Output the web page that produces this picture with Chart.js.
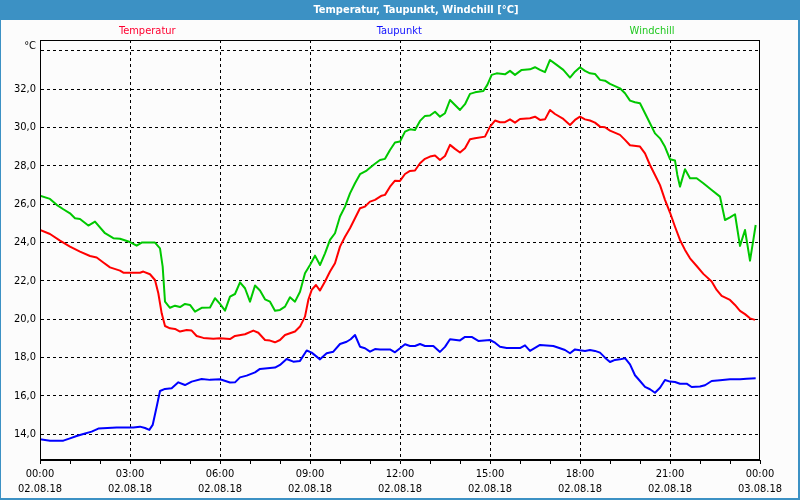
<!DOCTYPE html>
<html>
<head>
<meta charset="utf-8">
<script src="https://cdn.jsdelivr.net/npm/chart.js@4/dist/chart.umd.min.js"></script>
<style>
html,body{margin:0;padding:0;background:#fff;}
canvas{display:block;}
</style>
</head>
<body>
<canvas id="c" width="800" height="500"></canvas>
<script>
const chartTitle = 'Temperatur, Taupunkt, Windchill [°C]';
const seriesNames = ['Temperatur', 'Taupunkt', 'Windchill'];
const xTickLabels = [
  ['00:00','02.08.18'],['03:00','02.08.18'],['06:00','02.08.18'],['09:00','02.08.18'],
  ['12:00','02.08.18'],['15:00','02.08.18'],['18:00','02.08.18'],['21:00','02.08.18'],
  ['00:00','03.08.18']
];
const yTickValues = [14,16,18,20,22,24,26,28,30,32,34];

const tempHours = [0,0.333,0.667,1.0,1.333,1.667,1.889,2.111,2.333,2.667,2.778,3.333,3.444,3.667,3.833,3.944,4.056,4.167,4.333,4.5,4.667,4.889,5.056,5.222,5.444,5.778,
6.0,6.333,6.5,6.833,7.111,7.278,7.5,7.667,7.833,8.0,8.167,8.333,8.5,8.667,8.833,8.944,9.056,9.2,9.333,9.5,9.667,9.833,10.0,10.167,10.333,10.5,10.667,10.833,11.0,11.167,11.389,11.5,11.667,11.833,
12.0,12.167,12.333,12.5,12.667,12.833,13.0,13.167,13.333,13.5,13.667,13.833,14.0,14.167,14.333,14.5,14.833,15.0,15.167,15.333,15.5,15.667,15.833,16.0,16.333,16.5,16.667,16.833,17.0,17.167,17.444,17.667,17.833,
18.0,18.167,18.333,18.5,18.667,18.833,19.0,19.333,19.5,19.667,20.0,20.167,20.333,20.5,20.667,20.833,21.0,21.167,21.333,21.5,21.667,21.889,22.111,22.389,22.556,22.722,23.0,23.167,23.333,23.5,23.667,23.833];
const tempValues = [24.66,24.45,24.10,23.79,23.53,23.30,23.22,22.96,22.71,22.54,22.43,22.43,22.49,22.35,22.05,21.36,20.31,19.65,19.53,19.50,19.36,19.44,19.41,19.13,19.03,18.99,
19.01,18.97,19.13,19.22,19.41,19.30,18.92,18.89,18.80,18.92,19.18,19.27,19.36,19.62,20.14,21.01,21.53,21.79,21.50,21.97,22.49,22.92,23.79,24.31,24.75,25.27,25.79,25.88,26.14,26.23,26.45,26.49,26.92,27.23,
27.22,27.58,27.74,27.76,28.14,28.37,28.49,28.54,28.31,28.52,29.10,28.89,28.70,28.92,29.39,29.44,29.53,30.05,30.37,30.28,30.28,30.43,30.26,30.45,30.49,30.57,30.40,30.43,30.92,30.71,30.45,30.14,30.40,
30.57,30.43,30.37,30.26,30.05,30.02,29.84,29.62,29.36,29.08,29.01,28.66,28.05,27.53,27.00,26.23,25.57,24.83,24.14,23.62,23.18,22.78,22.37,21.97,21.53,21.22,21.01,20.75,20.44,20.27,20.05,19.97];

const dewHours = [0,0.333,0.778,1.0,1.222,1.444,1.722,1.944,2.556,3.111,3.333,3.5,3.644,3.756,3.889,4.0,4.167,4.389,4.611,4.833,5.056,5.389,5.667,
6.0,6.333,6.5,6.667,6.889,7.167,7.333,7.833,8.0,8.222,8.444,8.667,8.889,9.056,9.333,9.556,9.778,10.0,10.222,10.356,10.5,10.667,10.833,11.0,11.167,11.333,11.667,11.833,
12.0,12.167,12.333,12.5,12.667,12.833,13.111,13.333,13.5,13.667,14.0,14.167,14.389,14.611,15.0,15.167,15.333,15.556,16.0,16.167,16.333,16.667,17.111,17.333,17.5,17.667,17.833,
18.0,18.167,18.333,18.5,18.667,18.833,19.0,19.167,19.333,19.5,19.667,19.833,20.0,20.167,20.333,20.5,20.667,20.833,21.0,21.167,21.333,21.556,21.722,22.0,22.167,22.389,22.667,23.0,23.333,23.556,23.856];
const dewValues = [13.74,13.67,13.67,13.79,13.91,14.02,14.14,14.30,14.35,14.35,14.40,14.33,14.23,14.49,15.44,16.26,16.37,16.40,16.71,16.57,16.75,16.89,16.84,
16.87,16.70,16.71,16.97,17.06,17.23,17.41,17.48,17.62,17.93,17.79,17.83,18.37,18.26,17.91,18.23,18.31,18.71,18.83,18.96,19.18,18.57,18.49,18.31,18.45,18.43,18.43,18.28,
18.49,18.70,18.61,18.61,18.71,18.61,18.61,18.30,18.56,18.96,18.90,19.08,19.08,18.87,18.92,18.78,18.57,18.50,18.50,18.64,18.35,18.66,18.61,18.49,18.40,18.23,18.43,
18.38,18.35,18.40,18.35,18.26,18.00,17.77,17.88,17.91,17.97,17.65,17.08,16.78,16.47,16.35,16.17,16.43,16.83,16.75,16.73,16.64,16.64,16.47,16.49,16.56,16.78,16.82,16.87,16.87,16.90,16.92];

const windHours = [0,0.333,0.556,0.778,1.0,1.167,1.333,1.611,1.833,2.167,2.444,2.667,3.0,3.222,3.389,3.833,4.0,4.089,4.167,4.333,4.5,4.667,4.833,5.0,5.167,5.389,5.667,5.833,
6.0,6.167,6.333,6.5,6.667,6.833,7.0,7.167,7.333,7.5,7.667,7.833,8.0,8.167,8.333,8.5,8.667,8.833,9.0,9.167,9.333,9.5,9.667,9.833,10.0,10.167,10.333,10.5,10.667,10.889,11.111,11.333,11.5,11.667,11.833,
12.0,12.167,12.333,12.5,12.667,12.833,13.0,13.167,13.333,13.5,13.667,13.833,14.0,14.167,14.333,14.5,14.778,14.911,15.056,15.222,15.5,15.667,15.833,16.056,16.333,16.5,16.667,16.833,17.0,17.222,17.444,17.667,17.833,
18.0,18.167,18.333,18.5,18.667,18.833,19.0,19.333,19.5,19.667,19.833,20.0,20.167,20.333,20.5,20.667,20.833,21.0,21.167,21.244,21.333,21.5,21.667,21.889,22.111,22.389,22.667,22.833,23.0,23.167,23.333,23.5,23.667,23.778,23.856];
const windValues = [26.45,26.28,25.97,25.74,25.53,25.27,25.23,24.89,25.10,24.49,24.23,24.20,24.03,23.84,24.00,24.00,23.70,22.75,20.92,20.60,20.71,20.64,20.80,20.75,20.40,20.60,20.62,21.10,
20.80,20.45,21.18,21.32,21.93,21.62,20.92,21.76,21.50,21.04,20.92,20.45,20.49,20.66,21.15,20.92,21.44,22.40,22.83,23.32,22.83,23.44,24.14,24.49,25.36,25.88,26.57,27.10,27.57,27.76,28.05,28.31,28.37,28.83,29.22,
29.27,29.79,29.91,29.88,30.35,30.61,30.63,30.83,30.57,30.75,31.44,31.18,30.92,31.22,31.76,31.84,31.91,32.23,32.75,32.83,32.78,32.96,32.75,33.01,33.04,33.15,33.01,32.89,33.53,33.27,33.01,32.61,32.92,
33.15,32.96,32.83,32.80,32.49,32.45,32.28,32.05,31.79,31.41,31.32,31.27,30.75,30.23,29.70,29.44,29.00,28.35,28.28,27.53,26.92,27.83,27.36,27.36,27.10,26.75,26.40,25.18,25.32,25.48,23.83,24.66,23.06,24.14,24.92];

const FONT = '"DejaVu Sans Condensed", "Liberation Sans", sans-serif';
const colors = ['#ff0000', '#0000ff', '#00c800'];
const labelColors = ['#ff0030', '#1010ff', '#20c820'];

function pts(h, v){ return h.map((x,i)=>({x:x, y:v[i]})); }

const deco = {
  id: 'deco',
  beforeDraw(chart){
    const c = chart.ctx;
    c.save();
    c.fillStyle = '#fcfcfc';
    c.fillRect(0,0,chart.width,chart.height);
    c.fillStyle = '#3c91c4';
    c.fillRect(0,0,chart.width,20);
    c.fillRect(0,0,1,chart.height);
    c.fillRect(chart.width-2,0,2,chart.height);
    c.fillRect(0,chart.height-2,chart.width,2);
    c.fillStyle = '#ffffff';
    c.font = 'bold 11px ' + FONT;
    c.textAlign = 'center';
    c.textBaseline = 'middle';
    c.fillText(chartTitle, 416, 10);
    c.restore();
  },
  afterDraw(chart){
    const c = chart.ctx, a = chart.chartArea;
    c.save();
    c.strokeStyle = '#000';
    c.lineWidth = 1;
    c.setLineDash([]);
    c.strokeRect(a.left+0.5, a.top+0.5, a.right-a.left-1, a.bottom-a.top-1);
    c.font = '11px ' + FONT;
    c.textAlign = 'center';
    c.textBaseline = 'middle';
    const fr = [0.149, 0.499, 0.85];
    chart.data.datasets.forEach((d,i)=>{
      c.fillStyle = labelColors[i];
      c.fillText(d.label, a.left + fr[i]*(a.right-a.left), 31);
    });
    c.fillStyle = '#000';
    c.textAlign = 'right';
    c.fillText('°C', a.left-4, 46);
    c.restore();
  }
};

new Chart(document.getElementById('c'), {
  type: 'line',
  data: {
    datasets: [
      {label: seriesNames[0], data: pts(tempHours, tempValues), borderColor: colors[0]},
      {label: seriesNames[1], data: pts(dewHours, dewValues), borderColor: colors[1]},
      {label: seriesNames[2], data: pts(windHours, windValues), borderColor: colors[2]}
    ]
  },
  options: {
    responsive: false,
    animation: false,
    devicePixelRatio: 1,
    layout: {padding: {top: 40, right: 40, left: 0, bottom: 0}},
    elements: {
      line: {borderWidth: 2, tension: 0, borderJoinStyle: 'round'},
      point: {radius: 0}
    },
    plugins: {legend: {display: false}, title: {display: false}, tooltip: {enabled: false}},
    scales: {
      x: {
        type: 'linear', min: 0, max: 24,
        afterBuildTicks(s){ s.ticks = Array.from({length:25},(_,i)=>({value:i})); },
        afterFit(s){ s.height = 40; },
        border: {display: true, color: '#000', width: 1, dash: [3,3]},
        grid: {
          color: ctx => (ctx.tick && ctx.tick.value % 3 === 0 && ctx.tick.value > 0 && ctx.tick.value < 24) ? '#000' : 'rgba(0,0,0,0)',
          tickColor: '#000',
          tickLength: 4,
          tickBorderDash: [],
          lineWidth: 1
        },
        ticks: {
          autoSkip: false, maxRotation: 0, padding: 2,
          color: '#000',
          font: {family: FONT, size: 11, lineHeight: 1.4},
          callback: v => (v % 3 === 0) ? xTickLabels[v/3] : ''
        }
      },
      y: {
        type: 'linear', min: 12.66, max: 34.57,
        afterBuildTicks(s){ s.ticks = yTickValues.map(v=>({value:v})); },
        afterFit(s){ s.width = 40; },
        border: {display: true, color: '#000', width: 1, dash: [3,3]},
        grid: {
          color: '#000', drawTicks: false, lineWidth: 1
        },
        ticks: {
          padding: 4, color: '#000',
          font: {family: FONT, size: 11},
          callback: v => v === 34 ? '' : v.toFixed(1).replace('.', ',')
        }
      }
    }
  },
  plugins: [deco]
});
</script>
</body>
</html>
